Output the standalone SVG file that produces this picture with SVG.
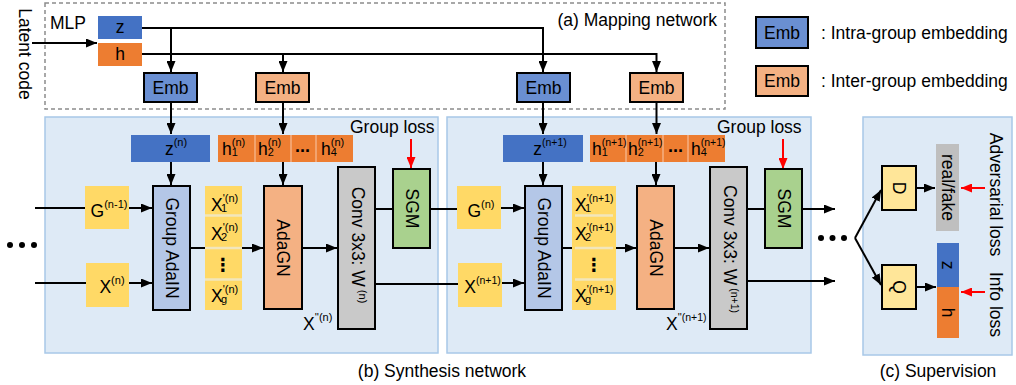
<svg xmlns="http://www.w3.org/2000/svg" width="1016" height="385" viewBox="0 0 1016 385">
<defs>
  <marker id="ah" markerUnits="userSpaceOnUse" markerWidth="11" markerHeight="9" refX="11" refY="4.5" orient="auto">
    <path d="M0,0 L11,4.5 L0,9 z" fill="#000"/>
  </marker>
  <marker id="ahr" markerUnits="userSpaceOnUse" markerWidth="11" markerHeight="9" refX="11" refY="4.5" orient="auto">
    <path d="M0,0 L11,4.5 L0,9 z" fill="#FF0000"/>
  </marker>
  <style>
    text { font-family: "Liberation Sans", Arial, sans-serif; font-size: 17.5px; fill: #000; }
    .m { text-anchor: middle; }
    .sup { font-size: 11px; }
    .sup2 { font-size: 10.5px; }
    .box { stroke: #000; stroke-width: 2; }
    .blk { fill: #DEEAF6; stroke: #A8C8E8; stroke-width: 1.5; }
    .c { fill: none; stroke: #000; stroke-width: 2; }
    .ca { fill: none; stroke: #000; stroke-width: 2; marker-end: url(#ah); }
    .cr { fill: none; stroke: #FF0000; stroke-width: 2; marker-end: url(#ahr); }
    .zb { fill: #4472C4; }
    .hb { fill: #ED7D31; }
    .embz { fill: #6A8FD2; }
    .embh { fill: #F4B183; }
    .ain { fill: #B4C7E7; }
    .agn { fill: #F4B183; }
    .conv { fill: #C9C9C9; }
    .sgm { fill: #A9D18E; }
    .yel { fill: #FFD966; }
    .dq { fill: #FFE699; }
    .rf { fill: #BFBFBF; }
    .hsep { stroke: #F4B183; stroke-width: 1.5; }
    .xsep { stroke: #F2E6BC; stroke-width: 2.5; }
    .dots { font-weight: bold; font-size: 18px; }
    .vdots { font-family: "DejaVu Sans", sans-serif; font-weight: bold; font-size: 18px; text-anchor: middle; }
  </style>
</defs>

<rect width="1016" height="385" fill="#FFFFFF"/>

<!-- stage backgrounds -->
<g id="mapping-frame">
  <rect x="45" y="3" width="680" height="106" fill="none" stroke="#8C8C8C" stroke-width="1.5" stroke-dasharray="4,3"/>
  <text x="717" y="26" text-anchor="end">(a) Mapping network</text>
</g>
<g id="synthesis-frame">
  <rect class="blk" x="45" y="117" width="393" height="236"/>
  <rect class="blk" x="447" y="117" width="364" height="236"/>
  <text x="442" y="377" class="m">(b) Synthesis network</text>
</g>
<g id="supervision-frame">
  <rect class="blk" x="863" y="117" width="149" height="238"/>
  <text x="938" y="377" class="m">(c) Supervision</text>
</g>

<!-- connectors -->
<g id="connectors">
  <line class="ca" x1="32" y1="43" x2="97" y2="43"/>
  <path class="ca" d="M142,28 H543 V72"/>
  <line class="ca" x1="171" y1="28" x2="171" y2="72"/>
  <path class="ca" d="M142,54 H656.5 V72"/>
  <line class="ca" x1="283" y1="54" x2="283" y2="72"/>

  <!-- stage n -->
  <line class="ca" x1="171" y1="102" x2="171" y2="134"/>
  <line class="ca" x1="283" y1="102" x2="283" y2="134"/>
  <line class="ca" x1="171" y1="162" x2="171" y2="185"/>
  <line class="ca" x1="283" y1="162" x2="283" y2="185"/>
  <line class="c" x1="35" y1="208" x2="85" y2="208"/>
  <line class="ca" x1="129" y1="208" x2="152" y2="208"/>
  <line class="c" x1="35" y1="283" x2="86" y2="283"/>
  <line class="ca" x1="129" y1="283" x2="152" y2="283"/>
  <line class="c" x1="190" y1="248" x2="205" y2="248"/>
  <line class="ca" x1="242" y1="248" x2="263" y2="248"/>
  <line class="ca" x1="302" y1="248" x2="337" y2="248"/>
  <line class="c" x1="375" y1="209" x2="393" y2="209"/>
  <line class="c" x1="430" y1="209" x2="457" y2="209"/>
  <line class="c" x1="375" y1="284" x2="458" y2="284"/>
  <line class="cr" x1="411" y1="139" x2="411" y2="168"/>

  <!-- stage n+1 -->
  <line class="ca" x1="543" y1="102" x2="543" y2="134"/>
  <line class="ca" x1="656.5" y1="102" x2="656.5" y2="134"/>
  <line class="ca" x1="543" y1="162" x2="543" y2="185"/>
  <line class="ca" x1="656" y1="162" x2="656" y2="185"/>
  <line class="ca" x1="501" y1="208" x2="524" y2="208"/>
  <line class="ca" x1="502" y1="283" x2="524" y2="283"/>
  <line class="c" x1="562" y1="248" x2="572" y2="248"/>
  <line class="ca" x1="616" y1="248" x2="636" y2="248"/>
  <line class="ca" x1="674" y1="248" x2="709" y2="248"/>
  <line class="c" x1="747" y1="209" x2="765" y2="209"/>
  <line class="ca" x1="802" y1="209" x2="835" y2="209"/>
  <line class="ca" x1="747" y1="281" x2="835" y2="281"/>
  <line class="cr" x1="783" y1="139" x2="783" y2="169"/>

  <!-- supervision -->
  <line class="ca" x1="855" y1="238" x2="881" y2="190"/>
  <line class="ca" x1="855" y1="238" x2="881" y2="285"/>
  <line class="ca" x1="916" y1="188" x2="935" y2="188"/>
  <line class="ca" x1="916" y1="287" x2="936" y2="287"/>
  <line class="cr" x1="985" y1="188" x2="961" y2="188"/>
  <line class="cr" x1="985" y1="292" x2="961" y2="292"/>
</g>

<!-- mapping network -->
<g id="latent-code">
  <text class="m" transform="translate(25,54) rotate(90)" y="6">Latent code</text>
</g>
<g id="mlp">
  <text x="50" y="29">MLP</text>
  <rect class="zb" x="98" y="16" width="44" height="23"/>
  <text class="m" x="120" y="33">z</text>
  <rect class="hb" x="98" y="43" width="44" height="23"/>
  <text class="m" x="120" y="60">h</text>
</g>
<g id="emb-z-n">
  <rect class="box embz" x="144" y="73" width="53" height="29"/>
  <text class="m" x="170.5" y="94">Emb</text>
</g>
<g id="emb-h-n">
  <rect class="box embh" x="256" y="73" width="53" height="29"/>
  <text class="m" x="282.5" y="94">Emb</text>
</g>
<g id="emb-z-n1">
  <rect class="box embz" x="517" y="73" width="53" height="29"/>
  <text class="m" x="543.5" y="94">Emb</text>
</g>
<g id="emb-h-n1">
  <rect class="box embh" x="630" y="73" width="53" height="29"/>
  <text class="m" x="656.5" y="94">Emb</text>
</g>

<!-- legend -->
<g id="legend-intra">
  <rect class="box embz" x="756" y="17" width="52" height="31"/>
  <text class="m" x="782" y="38.5">Emb</text>
  <text x="821" y="38.5">: Intra-group embedding</text>
</g>
<g id="legend-inter">
  <rect class="box embh" x="756" y="66" width="52" height="30"/>
  <text class="m" x="782" y="87">Emb</text>
  <text x="821" y="87">: Inter-group embedding</text>
</g>

<!-- synthesis stage n -->
<g id="dots-left">
  <circle cx="10" cy="245" r="3"/>
  <circle cx="22" cy="245" r="3"/>
  <circle cx="34" cy="245" r="3"/>
</g>
<g id="z-code-n">
  <rect class="zb" x="131" y="135" width="79" height="27"/>
  <text class="m" x="176" y="155">z<tspan class="sup" dy="-9">(n)</tspan></text>
</g>
<g id="h-codes-n">
  <rect class="hb" x="218" y="135" width="135" height="27"/>
  <line class="hsep" x1="255" y1="135" x2="255" y2="162"/>
  <line class="hsep" x1="291" y1="135" x2="291" y2="162"/>
  <line class="hsep" x1="316" y1="135" x2="316" y2="162"/>
  <text x="222" y="155">h<tspan class="sup" dy="-9">(n)</tspan><tspan class="sup" x="231.7" dy="10">1</tspan></text>
  <text x="258" y="155">h<tspan class="sup" dy="-9">(n)</tspan><tspan class="sup" x="267.7" dy="10">2</tspan></text>
  <text class="dots" x="295" y="152">...</text>
  <text x="321" y="155">h<tspan class="sup" dy="-9">(n)</tspan><tspan class="sup" x="330.7" dy="10">4</tspan></text>
</g>
<g id="group-loss-n">
  <text x="350" y="133">Group loss</text>
</g>
<g id="g-prev">
  <rect class="yel" x="85" y="186" width="44" height="43"/>
  <text class="m" x="109" y="217">G<tspan class="sup" dy="-9">(n-1)</tspan></text>
</g>
<g id="x-n">
  <rect class="yel" x="86" y="263" width="43" height="44"/>
  <text class="m" x="112" y="293">X<tspan class="sup" dy="-9">(n)</tspan></text>
</g>
<g id="group-adain-n">
  <rect class="box ain" x="153" y="186" width="37" height="124"/>
  <text class="m" transform="translate(171.5,248) rotate(90)" y="6">Group AdaIN</text>
</g>
<g id="x-groups-n">
  <rect class="yel" x="205" y="186" width="37" height="124"/>
  <line class="xsep" x1="205" y1="215.5" x2="242" y2="215.5"/>
  <line class="xsep" x1="205" y1="248" x2="242" y2="248"/>
  <line class="xsep" x1="205" y1="279.5" x2="242" y2="279.5"/>
  <text x="211" y="211">X<tspan class="sup" dy="-9">'(n)</tspan><tspan class="sup" x="221" dy="10">1</tspan></text>
  <text x="211" y="240">X<tspan class="sup" dy="-9">'(n)</tspan><tspan class="sup" x="221" dy="10">2</tspan></text>
  <text class="vdots" x="223" y="271">⋮</text>
  <text x="211" y="302">X<tspan class="sup" dy="-9">'(n)</tspan><tspan class="sup" x="221" dy="10">g</tspan></text>
</g>
<g id="adagn-n">
  <rect class="box agn" x="264" y="186" width="38" height="123"/>
  <text class="m" transform="translate(283,248) rotate(90)" y="6">AdaGN</text>
</g>
<g id="conv-n">
  <rect class="box conv" x="338" y="167" width="37" height="162"/>
  <text class="m" transform="translate(356.5,245) rotate(90)" y="5">Conv 3x3: W<tspan class="sup" dx="3" dy="-7">(n)</tspan></text>
  <text x="303" y="330">X<tspan class="sup" dy="-9">''(n)</tspan></text>
</g>
<g id="sgm-n">
  <rect class="box sgm" x="393" y="169" width="37" height="79"/>
  <text class="m" transform="translate(411.5,208.5) rotate(90)" y="6">SGM</text>
</g>

<!-- synthesis stage n+1 -->
<g id="z-code-n1">
  <rect class="zb" x="503" y="135" width="80" height="27"/>
  <text class="m" x="550" y="155">z<tspan class="sup2" dy="-9">(n+1)</tspan></text>
</g>
<g id="h-codes-n1">
  <rect class="hb" x="590" y="135" width="135" height="27"/>
  <line class="hsep" x1="626" y1="135" x2="626" y2="162"/>
  <line class="hsep" x1="663" y1="135" x2="663" y2="162"/>
  <line class="hsep" x1="688" y1="135" x2="688" y2="162"/>
  <text x="592" y="155">h<tspan class="sup2" dy="-9">(n+1)</tspan><tspan class="sup" x="601.7" dy="10">1</tspan></text>
  <text x="628" y="155">h<tspan class="sup2" dy="-9">(n+1)</tspan><tspan class="sup" x="637.7" dy="10">2</tspan></text>
  <text class="dots" x="668" y="152">...</text>
  <text x="691" y="155">h<tspan class="sup2" dy="-9">(n+1)</tspan><tspan class="sup" x="700.7" dy="10">4</tspan></text>
</g>
<g id="group-loss-n1">
  <text x="717" y="133">Group loss</text>
</g>
<g id="g-n">
  <rect class="yel" x="457" y="186" width="44" height="43"/>
  <text class="m" x="481" y="217">G<tspan class="sup" dy="-9">(n)</tspan></text>
</g>
<g id="x-n1">
  <rect class="yel" x="458" y="263" width="44" height="44"/>
  <text class="m" x="482.5" y="293">X<tspan class="sup2" dy="-9">(n+1)</tspan></text>
</g>
<g id="group-adain-n1">
  <rect class="box ain" x="525" y="186" width="37" height="124"/>
  <text class="m" transform="translate(543.5,248) rotate(90)" y="6">Group AdaIN</text>
</g>
<g id="x-groups-n1">
  <rect class="yel" x="572" y="186" width="44" height="124"/>
  <line class="xsep" x1="575" y1="215.5" x2="613" y2="215.5"/>
  <line class="xsep" x1="575" y1="248" x2="613" y2="248"/>
  <line class="xsep" x1="575" y1="279.5" x2="613" y2="279.5"/>
  <text x="575" y="211">X<tspan class="sup2" dy="-9">'(n+1)</tspan><tspan class="sup" x="585" dy="10">1</tspan></text>
  <text x="575" y="240">X<tspan class="sup2" dy="-9">'(n+1)</tspan><tspan class="sup" x="585" dy="10">2</tspan></text>
  <text class="vdots" x="594" y="271">⋮</text>
  <text x="575" y="302">X<tspan class="sup2" dy="-9">'(n+1)</tspan><tspan class="sup" x="585" dy="10">g</tspan></text>
</g>
<g id="adagn-n1">
  <rect class="box agn" x="637" y="186" width="37" height="123"/>
  <text class="m" transform="translate(655.5,248) rotate(90)" y="6">AdaGN</text>
</g>
<g id="conv-n1">
  <rect class="box conv" x="710" y="167" width="37" height="162"/>
  <text class="m" transform="translate(728.5,249) rotate(90)" y="5">Conv 3x3: W<tspan class="sup2" dx="3" dy="-7">(n+1)</tspan></text>
  <text x="666" y="330">X<tspan class="sup2" dy="-9">''(n+1)</tspan></text>
</g>
<g id="sgm-n1">
  <rect class="box sgm" x="765" y="169" width="37" height="79"/>
  <text class="m" transform="translate(783.5,208.5) rotate(90)" y="6">SGM</text>
</g>
<g id="dots-right">
  <circle cx="821" cy="238" r="3"/>
  <circle cx="832.5" cy="238" r="3"/>
  <circle cx="844" cy="238" r="3"/>
</g>

<!-- supervision -->
<g id="discriminator">
  <rect class="box dq" x="882" y="166" width="34" height="44"/>
  <text class="m" transform="translate(899,188) rotate(90)" y="6">D</text>
</g>
<g id="q-net">
  <rect class="box dq" x="882" y="265" width="34" height="44"/>
  <text class="m" transform="translate(899,287) rotate(90)" y="6">Q</text>
</g>
<g id="real-fake">
  <rect class="rf" x="936" y="144" width="23" height="87"/>
  <text class="m" transform="translate(947.5,187.5) rotate(90)" y="6">real/fake</text>
</g>
<g id="zh-out">
  <rect class="zb" x="937" y="243" width="22" height="44"/>
  <rect class="hb" x="937" y="287" width="22" height="51"/>
  <text class="m" transform="translate(948,265) rotate(90)" y="6">z</text>
  <text class="m" transform="translate(948,312.5) rotate(90)" y="6">h</text>
</g>
<g id="adversarial-loss">
  <text class="m" transform="translate(996,194.5) rotate(90)" y="6">Adversarial loss</text>
</g>
<g id="info-loss">
  <text class="m" transform="translate(996,304.5) rotate(90)" y="6">Info loss</text>
</g>
</svg>
